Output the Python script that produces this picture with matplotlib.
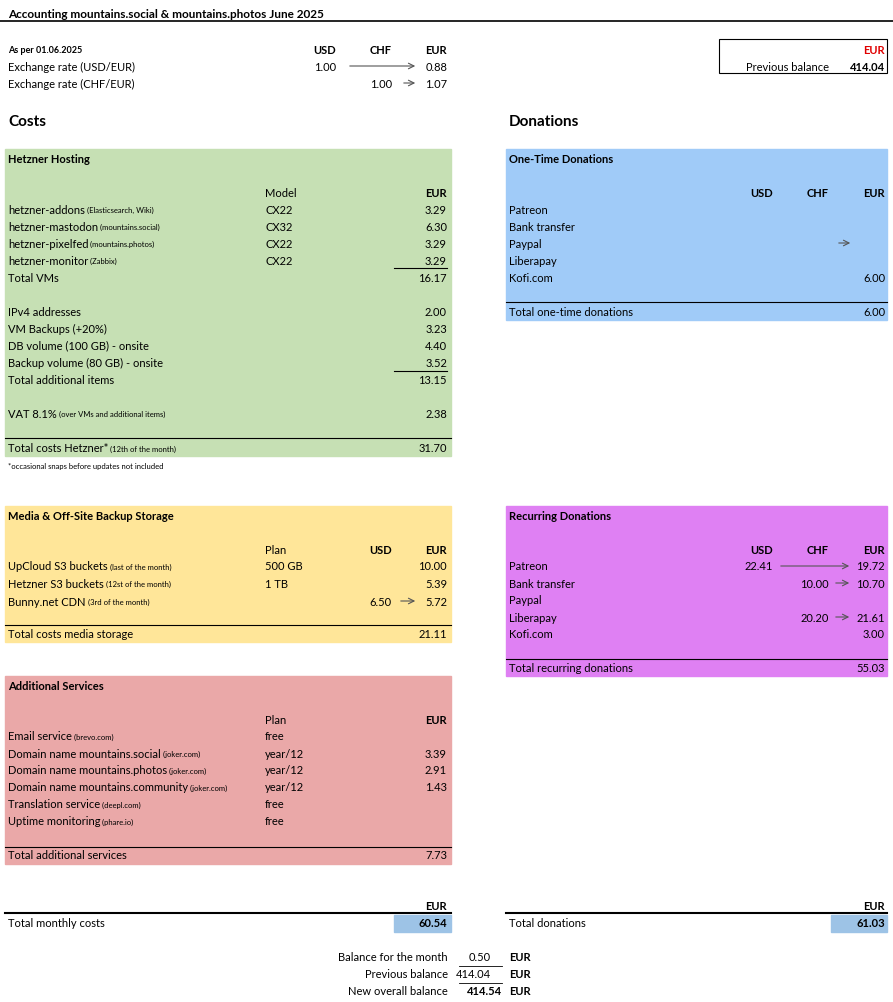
import matplotlib
matplotlib.use("Agg")
import matplotlib.pyplot as plt
from matplotlib.patches import Rectangle

FONT = "Lato"
plt.rcParams["font.family"] = FONT

title = "Accounting mountains.social & mountains.photos June 2025"
rate_usd_eur = ("1.00", "0.88")
rate_chf_eur = ("1.00", "1.07")
previous_balance = "414.04"

hetzner_vms = ["hetzner-addons", "hetzner-mastodon", "hetzner-pixelfed", "hetzner-monitor"]
hetzner_vm_notes = ["(Elasticsearch, Wiki)", "(mountains.social)", "(mountains.photos)", "(Zabbix)"]
hetzner_vm_models = ["CX22", "CX32", "CX22", "CX22"]
hetzner_vm_eur = ["3.29", "6.30", "3.29", "3.29"]
total_vms = "16.17"
extra_items = ["IPv4 addresses", "VM Backups (+20%)", "DB volume (100 GB) - onsite", "Backup volume (80 GB) - onsite"]
extra_eur = ["2.00", "3.23", "4.40", "3.52"]
total_extra = "13.15"
vat = "2.38"
total_hetzner = "31.70"

media_items = ["UpCloud S3 buckets", "Hetzner S3 buckets", "Bunny.net CDN"]
media_notes = ["(last of the month)", "(12st of the month)", "(3rd of the month)"]
media_plan = ["500 GB", "1 TB", ""]
media_usd = ["", "", "6.50"]
media_eur = ["10.00", "5.39", "5.72"]
total_media = "21.11"

svc_items = ["Email service", "Domain name mountains.social", "Domain name mountains.photos",
             "Domain name mountains.community", "Translation service", "Uptime monitoring"]
svc_notes = ["(brevo.com)", "(joker.com)", "(joker.com)", "(joker.com)", "(deepl.com)", "(phare.io)"]
svc_plan = ["free", "year/12", "year/12", "year/12", "free", "free"]
svc_eur = ["", "3.39", "2.91", "1.43", "", ""]
total_svc = "7.73"

don_channels = ["Patreon", "Bank transfer", "Paypal", "Liberapay", "Kofi.com"]
onetime_eur = ["", "", "", "", "6.00"]
total_onetime = "6.00"
rec_usd = ["22.41", "", "", "", ""]
rec_chf = ["", "10.00", "", "20.20", ""]
rec_eur = ["19.72", "10.70", "", "21.61", "3.00"]
total_rec = "55.03"

total_costs = "60.54"
total_donations = "61.03"
balance_month = "0.50"
new_balance = "414.54"

fig = plt.figure(figsize=(8.93, 10.03), dpi=100)
ax = fig.add_axes([0, 0, 1, 1])
ax.set_xlim(0, 893); ax.set_ylim(1003, 0); ax.axis("off")
FS = 8

def t(x, y, s, ha="left", bold=False, size=FS, color="black"):
    ax.text(x, y, s, ha=ha, va="center", fontsize=size, fontweight="bold" if bold else "normal", color=color)

def label(x, y, main, note):
    txt = ax.text(x, y, main, ha="left", va="center", fontsize=FS)
    if note:
        ax.annotate(" " + note, xycoords=txt, xy=(1, 0.5), va="center", fontsize=5.5)

def hline(x0, x1, y, lw=0.8):
    ax.plot([x0, x1], [y, y], color="black", lw=lw)

def arrow(x0, x1, y):
    ax.annotate("", xy=(x1, y), xytext=(x0, y),
                arrowprops=dict(arrowstyle="->", color="#555555", lw=0.8))

def box(x0, y0, x1, y1, c):
    ax.add_patch(Rectangle((x0, y0), x1 - x0, y1 - y0, color=c, zorder=0))

# header
t(8, 14, title, bold=True, size=8.5)
hline(0, 893, 22, 1.2)
t(8, 50, "As per 01.06.2025", bold=True, size=6.5)
t(325, 50, "USD", ha="center", bold=True); t(381, 50, "CHF", ha="center", bold=True); t(447, 50, "EUR", ha="right", bold=True)
t(8, 67, "Exchange rate (USD/EUR)"); t(336, 67, rate_usd_eur[0], ha="right"); arrow(347, 418, 67); t(447, 67, rate_usd_eur[1], ha="right")
t(8, 84, "Exchange rate (CHF/EUR)"); t(392, 84, rate_chf_eur[0], ha="right"); arrow(401, 418, 84); t(447, 84, rate_chf_eur[1], ha="right")
ax.add_patch(Rectangle((719, 40), 168, 34, fill=False, ec="black", lw=0.8))
t(885, 50, "EUR", ha="right", bold=True, color="#e00000")
t(829, 67, "Previous balance", ha="right"); t(885, 67, previous_balance, ha="right", bold=True)
t(8, 122, "Costs", bold=True, size=11); t(509, 122, "Donations", bold=True, size=11)

# Hetzner
box(5, 150, 451, 457, "#c6e0b4")
t(8, 159, "Hetzner Hosting", bold=True)
t(265, 193, "Model"); t(447, 193, "EUR", ha="right", bold=True)
for i, (n, note, m, e) in enumerate(zip(hetzner_vms, hetzner_vm_notes, hetzner_vm_models, hetzner_vm_eur)):
    y = 210 + 17 * i
    label(8, y, n, note); t(265, y, m); t(447, y, e, ha="right")
hline(394, 447, 269)
t(8, 278, "Total VMs"); t(447, 278, total_vms, ha="right")
for i, (n, e) in enumerate(zip(extra_items, extra_eur)):
    y = 312 + 17 * i
    t(8, y, n); t(447, y, e, ha="right")
hline(394, 447, 372)
t(8, 380, "Total additional items"); t(447, 380, total_extra, ha="right")
label(8, 414, "VAT 8.1%", "(over VMs and additional items)"); t(447, 414, vat, ha="right")
hline(5, 451, 439)
label(8, 449, "Total costs Hetzner*", "(12th of the month)"); t(447, 449, total_hetzner, ha="right")
t(8, 466, "*occasional snaps before updates not included", size=5.5)

# Media
box(5, 507, 451, 643, "#ffe699")
t(8, 516, "Media & Off-Site Backup Storage", bold=True)
t(265, 550, "Plan"); t(392, 550, "USD", ha="right", bold=True); t(447, 550, "EUR", ha="right", bold=True)
for i in range(len(media_items)):
    y = 567 + 17.5 * i
    label(8, y, media_items[i], media_notes[i]); t(265, y, media_plan[i])
    t(392, y, media_usd[i], ha="right"); t(447, y, media_eur[i], ha="right")
    if media_usd[i]:
        arrow(398, 418, y)
hline(5, 451, 626)
t(8, 635, "Total costs media storage"); t(447, 635, total_media, ha="right")

# Services
box(5, 677, 451, 865, "#eaa8a8")
t(8, 686, "Additional Services", bold=True)
t(265, 720, "Plan"); t(447, 720, "EUR", ha="right", bold=True)
for i in range(len(svc_items)):
    y = 737 + 17 * i
    label(8, y, svc_items[i], svc_notes[i]); t(265, y, svc_plan[i]); t(447, y, svc_eur[i], ha="right")
hline(5, 451, 848)
t(8, 856, "Total additional services"); t(447, 856, total_svc, ha="right")

# One-time donations
box(506, 150, 887, 321, "#a0cbf8")
t(509, 159, "One-Time Donations", bold=True)
t(773, 193, "USD", ha="right", bold=True); t(829, 193, "CHF", ha="right", bold=True); t(885, 193, "EUR", ha="right", bold=True)
for i, (c, e) in enumerate(zip(don_channels, onetime_eur)):
    y = 210 + 17 * i
    t(509, y, c); t(885, y, e, ha="right")
arrow(836, 853, 244)
hline(506, 887, 303)
t(509, 312, "Total one-time donations"); t(885, 312, total_onetime, ha="right")

# Recurring donations
box(506, 507, 887, 677, "#df80f3")
t(509, 516, "Recurring Donations", bold=True)
t(773, 550, "USD", ha="right", bold=True); t(829, 550, "CHF", ha="right", bold=True); t(885, 550, "EUR", ha="right", bold=True)
for i, c in enumerate(don_channels):
    y = 567 + 17 * i
    t(509, y, c); t(773, y, rec_usd[i], ha="right"); t(829, y, rec_chf[i], ha="right"); t(885, y, rec_eur[i], ha="right")
    if rec_usd[i]:
        arrow(778, 852, y)
    elif rec_chf[i]:
        arrow(833, 852, y)
hline(506, 887, 660)
t(509, 669, "Total recurring donations"); t(885, 669, total_rec, ha="right")

# Totals
t(447, 907, "EUR", ha="right", bold=True); hline(5, 451, 914, 1.5)
t(8, 924, "Total monthly costs"); box(394, 916, 451, 933, "#9dc3e6"); t(447, 924, total_costs, ha="right", bold=True)
t(885, 907, "EUR", ha="right", bold=True); hline(506, 887, 914, 1.5)
t(509, 924, "Total donations"); box(831, 916, 887, 933, "#9dc3e6"); t(885, 924, total_donations, ha="right", bold=True)

t(448, 958, "Balance for the month", ha="right"); t(491, 958, balance_month, ha="right"); t(509, 958, "EUR", bold=True)
hline(459, 502, 967, 0.6)
t(448, 975, "Previous balance", ha="right"); t(491, 975, previous_balance, ha="right"); t(509, 975, "EUR", bold=True)
hline(459, 502, 984, 0.6)
t(448, 992, "New overall balance", ha="right"); t(502, 992, new_balance, ha="right", bold=True); t(509, 992, "EUR", bold=True)

fig.savefig("out.png", dpi=100)
